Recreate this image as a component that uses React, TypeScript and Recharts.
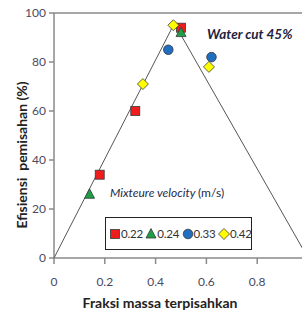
import React from "react";
import { ScatterChart, Scatter, XAxis, YAxis, ReferenceLine } from "recharts";

// trend lines (drawn by hand in the original figure)
const leftLineX = [0, 0.47];
const leftLineY = [0, 95];
const rightLineX = [0.5, 1];
const rightLineY = [91, 0];

// mixture velocity series (m/s)
const velocities = ["0.22", "0.24", "0.33", "0.42"];
const v022X = [0.18, 0.32, 0.5];
const v022Y = [34, 60, 94];
const v024X = [0.14, 0.5];
const v024Y = [26, 92];
const v033X = [0.45, 0.62];
const v033Y = [85, 82];
const v042X = [0.35, 0.47, 0.61];
const v042Y = [71, 95, 78];

const xTicks = [0, 0.2, 0.4, 0.6, 0.8];
const yTicks = [0, 20, 40, 60, 80, 100];

const toPts = (xs: number[], ys: number[]) => xs.map((x, i) => ({ x, y: ys[i] }));

const RED = "#ee1c1c";
const GREEN = "#1e9e45";
const BLUE = "#1f6ec0";
const YELLOW = "#ffff00";
const EDGE = "#3a3a3a";
const FONT = "Lato, 'Open Sans', sans-serif";

type ShapeProps = { cx?: number; cy?: number };

const Square = ({ cx = 0, cy = 0 }: ShapeProps) => (
  <rect x={cx - 4.5} y={cy - 4.5} width={9} height={9} fill={RED} stroke={EDGE} strokeWidth={0.8} />
);
const Triangle = ({ cx = 0, cy = 0 }: ShapeProps) => (
  <polygon
    points={`${cx},${cy - 5.5} ${cx + 5},${cy + 4} ${cx - 5},${cy + 4}`}
    fill={GREEN}
    stroke={EDGE}
    strokeWidth={0.8}
  />
);
const Circle = ({ cx = 0, cy = 0 }: ShapeProps) => (
  <circle cx={cx} cy={cy} r={4.8} fill={BLUE} stroke={EDGE} strokeWidth={0.8} />
);
const Diamond = ({ cx = 0, cy = 0 }: ShapeProps) => (
  <polygon
    points={`${cx},${cy - 5.5} ${cx + 5.5},${cy} ${cx},${cy + 5.5} ${cx - 5.5},${cy}`}
    fill={YELLOW}
    stroke={EDGE}
    strokeWidth={0.8}
  />
);
const NoShape = () => <g />;

const icons = [Square, Triangle, Circle, Diamond];

const LegendBox = () => (
  <div
    style={{
      position: "absolute",
      left: 105,
      top: 217,
      border: "1px solid #222",
      width: 147,
      height: 33,
      boxSizing: "border-box",
      display: "flex",
      alignItems: "center",
      paddingLeft: 3,
      fontFamily: FONT,
      fontSize: 11.5,
      letterSpacing: -0.2,
      color: "#333",
      background: "#fff",
    }}
  >
    {velocities.map((v, i) => {
      const Icon = icons[i];
      return (
        <span key={v} style={{ display: "flex", alignItems: "center", width: 36.3, flex: "none" }}>
          <svg width={12} height={12} style={{ flex: "none" }}>
            <Icon cx={6} cy={6} />
          </svg>
          <span>{v}</span>
        </span>
      );
    })}
  </div>
);

export default function App() {
  const tick = { fill: "#4a4a5e", fontSize: 12, fontFamily: FONT };
  return (
    <div
      style={{
        position: "fixed",
        left: 0,
        top: 0,
        width: 302,
        height: 311,
        overflow: "hidden",
        background: "#fff",
      }}
    >
      <ScatterChart width={308} height={311} margin={{ top: 13, right: 0, bottom: 0, left: 0 }}>
        <XAxis
          type="number"
          dataKey="x"
          domain={[0, 1]}
          ticks={xTicks}
          tick={tick}
          tickSize={6}
          tickMargin={13}
          height={53}
          stroke="#8a8a8a"
          strokeWidth={1.5}
          tickFormatter={(v: number) => String(v)}
        />
        <YAxis
          type="number"
          dataKey="y"
          domain={[0, 100]}
          ticks={yTicks}
          tick={tick}
          tickSize={5}
          tickMargin={3}
          width={54}
          stroke="#8a8a8a"
          strokeWidth={1.5}
        />
        <ReferenceLine y={100} stroke="#8a8a8a" strokeWidth={1.5} />
        <Scatter
          data={toPts(leftLineX, leftLineY)}
          line={{ stroke: "#555", strokeWidth: 1 }}
          shape={NoShape}
          legendType="none"
          isAnimationActive={false}
        />
        <Scatter
          data={toPts(rightLineX, rightLineY)}
          line={{ stroke: "#555", strokeWidth: 1 }}
          shape={NoShape}
          legendType="none"
          isAnimationActive={false}
        />
        <Scatter name="0.22" data={toPts(v022X, v022Y)} shape={Square} isAnimationActive={false} />
        <Scatter name="0.24" data={toPts(v024X, v024Y)} shape={Triangle} isAnimationActive={false} />
        <Scatter name="0.33" data={toPts(v033X, v033Y)} shape={Circle} isAnimationActive={false} />
        <Scatter name="0.42" data={toPts(v042X, v042Y)} shape={Diamond} isAnimationActive={false} />
      </ScatterChart>

      <LegendBox />

      <div
        style={{
          position: "absolute",
          left: 207,
          top: 26,
          fontFamily: FONT,
          fontSize: 13.5,
          fontWeight: 700,
          fontStyle: "italic",
          color: "#1d2240",
          whiteSpace: "nowrap",
        }}
      >
        Water cut 45%
      </div>
      <div
        style={{
          position: "absolute",
          left: 110,
          top: 185,
          fontFamily: FONT,
          fontSize: 12,
          fontStyle: "italic",
          color: "#1d2a4a",
          whiteSpace: "nowrap",
        }}
      >
        Mixteure velocity <span style={{ fontStyle: "normal" }}>(m/s)</span>
      </div>
      <div
        style={{
          position: "absolute",
          left: 160,
          top: 302,
          transform: "translate(-50%, -50%)",
          fontFamily: FONT,
          fontSize: 14,
          fontWeight: 700,
          color: "#222",
          whiteSpace: "nowrap",
        }}
      >
        Fraksi massa terpisahkan
      </div>
      <div
        style={{
          position: "absolute",
          left: 21,
          top: 155,
          transform: "translate(-50%, -50%) rotate(-90deg)",
          fontFamily: FONT,
          fontSize: 14,
          fontWeight: 700,
          color: "#222",
          whiteSpace: "pre",
        }}
      >
        {"Efisiensi  pemisahan (%)"}
      </div>
    </div>
  );
}
